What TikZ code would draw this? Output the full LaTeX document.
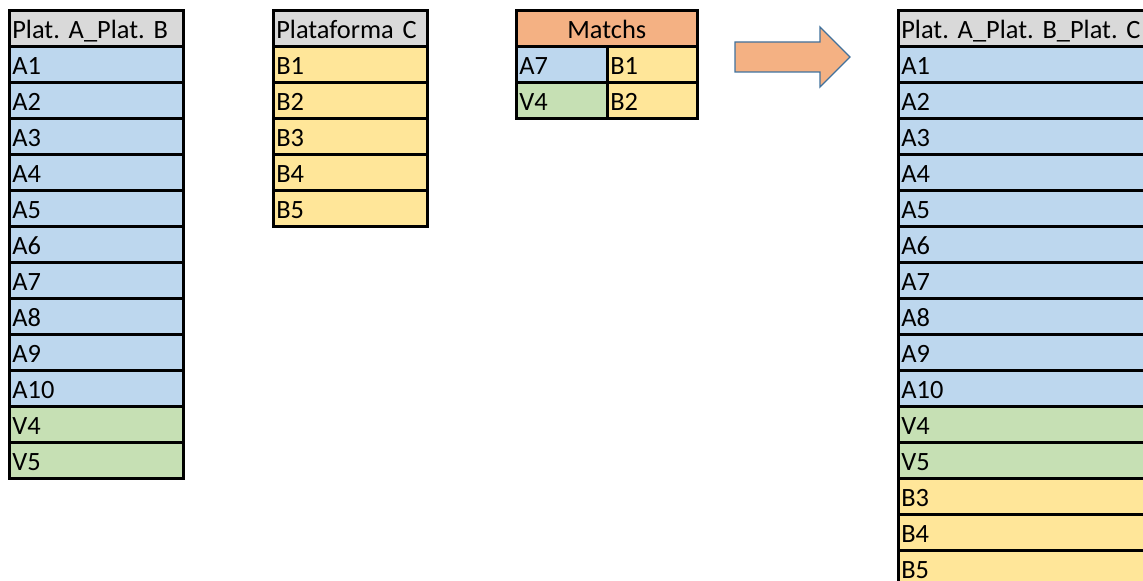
\documentclass[tikz,border=0pt]{standalone}
\usepackage{fontspec}
\setmainfont{Carlito}
\frenchspacing
\definecolor{hdr}{HTML}{D9D9D9}
\definecolor{cblue}{HTML}{BDD7EE}
\definecolor{cgreen}{HTML}{C6E0B4}
\definecolor{cyel}{HTML}{FFE699}
\definecolor{corange}{HTML}{F4B183}
\definecolor{arrline}{HTML}{41719C}
\begin{document}
\begin{tikzpicture}[x=0.75pt,y=-0.75pt,
  cell/.style={draw=black, line width=2pt, rectangle, anchor=north west,
    inner xsep=2.25pt, inner ysep=0pt, minimum height=27pt,
    text height=15pt, text depth=0pt, align=left,
    font=\fontsize{19.8}{22}\selectfont\frenchspacing},
  colL/.style={cell, text width=126pt},
  colC/.style={cell, text width=111pt},
  colR/.style={cell, text width=192.75pt},
  bigarrow/.style={draw=arrline, line width=1pt, fill=corange, line join=miter}]
\useasboundingbox (0,0) rectangle (1143,581);
\clip (0,0) rectangle (1143,581);
% left table
\node[colL, fill=hdr] (Lh) at (8,9) {Plat. A\_Plat. B};
\foreach \t/\c [count=\i] in {A1/cblue,A2/cblue,A3/cblue,A4/cblue,A5/cblue,A6/cblue,A7/cblue,A8/cblue,A9/cblue,A10/cblue,V4/cgreen,V5/cgreen}
  \node[colL, fill=\c] (L\i) at (8,{45+36*(\i-1)}) {\t};
% second table
\node[colC, fill=hdr] (Ch) at (272,9) {Plataforma C};
\foreach \t [count=\i] in {B1,B2,B3,B4,B5}
  \node[colC, fill=cyel] (C\i) at (272,{45+36*(\i-1)}) {\t};
% matchs
\node[cell, fill=corange, minimum width=135.75pt, align=center] (Mh) at (515,9) {Matchs};
\node[cell, fill=cblue, text width=63.75pt] (M1a) at (515,45) {A7};
\node[cell, fill=cyel, text width=63pt] (M1b) at (606,45) {B1};
\node[cell, fill=cgreen, text width=63.75pt] (M2a) at (515,81) {V4};
\node[cell, fill=cyel, text width=63pt] (M2b) at (606,81) {B2};
% arrow
\draw[bigarrow] (735,42) -- (820,42) -- (820,27) -- (850,57) -- (820,87) -- (820,72) -- (735,72) -- cycle;
% result table
\node[colR, fill=hdr] (Rh) at (897,9) {Plat. A\_Plat. B\_Plat. C};
\foreach \t/\c [count=\i] in {A1/cblue,A2/cblue,A3/cblue,A4/cblue,A5/cblue,A6/cblue,A7/cblue,A8/cblue,A9/cblue,A10/cblue,V4/cgreen,V5/cgreen,B3/cyel,B4/cyel,B5/cyel}
  \node[colR, fill=\c] (R\i) at (897,{45+36*(\i-1)}) {\t};
\end{tikzpicture}
\end{document}
